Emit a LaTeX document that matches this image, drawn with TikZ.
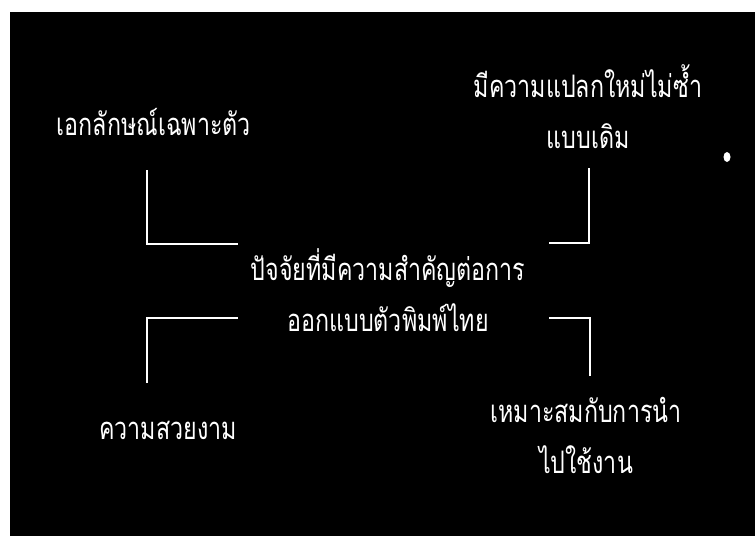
\documentclass[tikz,border=0pt]{standalone}
\usepackage{fontspec}
\newfontfamily\thaifont[Script=Thai,FakeStretch=0.75]{Loma}
\usetikzlibrary{positioning}

\begin{document}
\begin{tikzpicture}[x=1pt,y=-1pt,
    lbl/.style={text=white,font=\thaifont\fontsize{31}{51}\selectfont,align=center,inner sep=0pt},
    bracket/.style={draw=white,line width=2.8pt}]
        \fill[white] (0,0) rectangle (755,536);
        \fill[black] (10,12) rectangle (755,536);
        \useasboundingbox (0,0) rectangle (755,536);
        \node[lbl] (unique) at (154,122) {เอกลักษณ์เฉพาะตัว};
        \node[lbl] (novel) at (588,107) {มีความแปลกใหม่ไม่ซ้ำ\\แบบเดิม};
        \node[lbl] (factor) at (388,290) {ปัจจัยที่มีความสำคัญต่อการ\\ออกแบบตัวพิมพ์ไทย};
        \node[lbl] (beauty) at (168,430) {ความสวยงาม};
        \node[lbl] (usable) at (586,435) {เหมาะสมกับการนำ\\ไปใช้งาน};
        \coordinate (tl-a) at (147,170);\coordinate (tl-b) at (238,244);
        \coordinate (tr-a) at (589,168);\coordinate (tr-b) at (549,243);
        \coordinate (bl-a) at (147,383);\coordinate (bl-b) at (238,318);
        \coordinate (br-a) at (590,376);\coordinate (br-b) at (549,318);
        \draw[bracket] (tl-a) |- (tl-b);
        \draw[bracket] (tr-a) |- (tr-b);
        \draw[bracket] (bl-a) |- (bl-b);
        \draw[bracket] (br-a) |- (br-b);
        \fill[white] (727,157) ellipse (3.5 and 5);
      \end{tikzpicture}
\end{document}
